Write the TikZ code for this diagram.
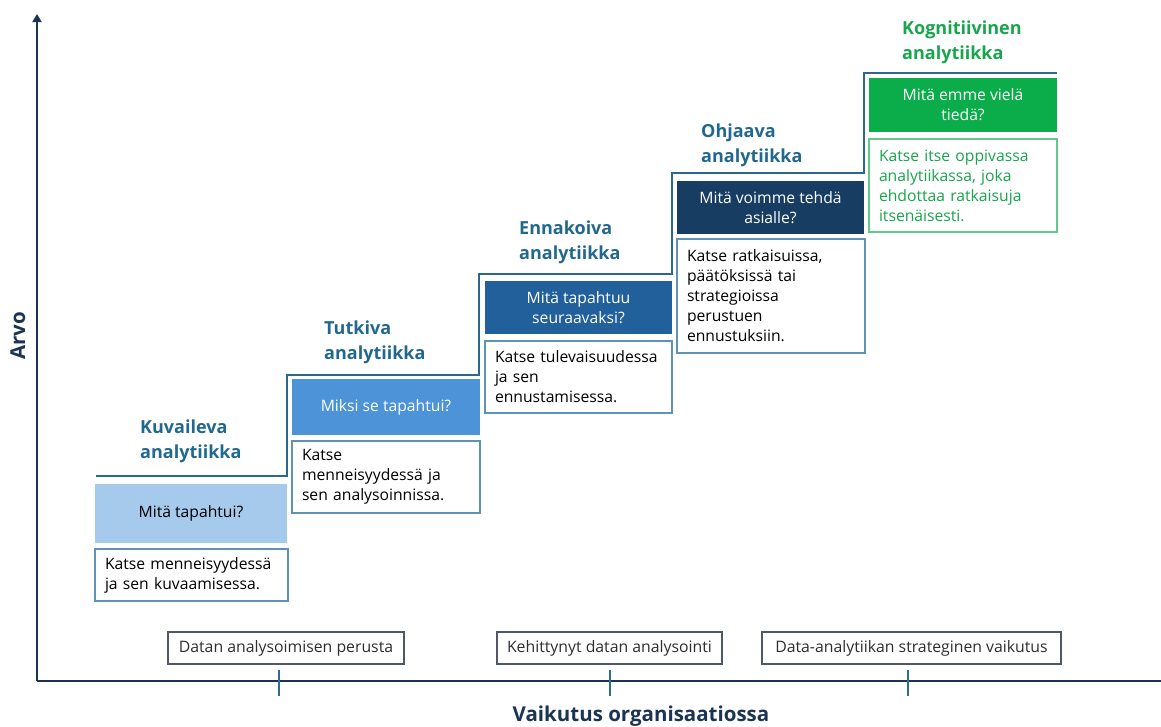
\documentclass[tikz,border=0pt]{standalone}
\usepackage{fontspec}
\setmainfont{Open Sans}
\usetikzlibrary{arrows.meta}

\definecolor{axisnavy}{RGB}{27,52,84}
\definecolor{stairblue}{RGB}{43,104,140}
\definecolor{titleblue}{RGB}{33,104,142}
\definecolor{titlegreen}{RGB}{24,166,76}
\definecolor{qone}{RGB}{166,202,236}
\definecolor{qtwo}{RGB}{76,147,216}
\definecolor{qthree}{RGB}{34,96,156}
\definecolor{qfour}{RGB}{23,61,99}
\definecolor{qfive}{RGB}{11,172,74}
\definecolor{descline}{RGB}{94,147,181}
\definecolor{descgreen}{RGB}{98,201,138}
\definecolor{labelline}{RGB}{80,88,102}
\definecolor{labeltext}{RGB}{45,45,45}
\definecolor{ticblue}{RGB}{47,109,146}

\begin{document}
\begin{tikzpicture}[x=1pt,y=-1pt,
  axisline/.style={draw=axisnavy, line width=2.4pt},
  stair/.style={draw=stairblue, line width=2.4pt, line join=miter},
  tickmark/.style={draw=ticblue, line width=1.8pt},
  stagetitle/.style={anchor=west, align=left, inner sep=0pt, text=titleblue,
    font=\bfseries\fontsize{18}{25}\selectfont},
  qbox/.style={inner sep=0pt, align=center, text=white,
    font=\fontsize{15.7}{20}\selectfont},
  descbox/.style={draw=descline, line width=1.5pt, fill=white, inner xsep=10pt,
    inner ysep=0pt, align=left, text=black, font=\fontsize{15.7}{20}\selectfont},
  levelbox/.style={draw=labelline, line width=1.2pt, inner sep=0pt,
    minimum height=32pt, text=labeltext, font=\fontsize{15.8}{18}\selectfont},
  axislabel/.style={text=axisnavy, inner sep=0pt,
    font=\bfseries\fontsize{20.5}{24}\selectfont}]

\useasboundingbox (0,0) rectangle (1161,726);

% axes
\coordinate (origin) at (37,681);
\coordinate (ytop) at (37,14);
\coordinate (xend) at (1161,681);
\draw[axisline] (origin) -- (xend);
\draw[axisline, -{Triangle[width=9pt,length=8pt]}] (origin) -- (ytop);
\node[axislabel] (xlab) at (641,716) {Vaikutus organisaatiossa};
\node[axislabel, rotate=90] (ylab) at (18,336) {Arvo};

% ticks on the horizontal axis
\draw[tickmark] (279,670) coordinate (t1) -- (279,696);
\draw[tickmark] (610,670) coordinate (t2) -- (610,696);
\draw[tickmark] (908,670) coordinate (t3) -- (908,696);

% maturity levels
\node[levelbox, minimum width=236pt] (lev1) at (286,648) {Datan analysoimisen perusta};
\node[levelbox, minimum width=225pt] (lev2) at (609.5,648) {Kehittynyt datan analysointi};
\node[levelbox, minimum width=299pt] (lev3) at (911.5,648) {Data-analytiikan strateginen vaikutus};

% staircase
\draw[stair] (96,476) -| (287,375) -| (479,274) -| (672,173) -| (864,73) -- (1057,73);

% stage titles
\node[stagetitle] (s1) at (140,441) {Kuvaileva\\analytiikka};
\node[stagetitle] (s2) at (324,342) {Tutkiva\\analytiikka};
\node[stagetitle] (s3) at (519,242.5) {Ennakoiva\\analytiikka};
\node[stagetitle] (s4) at (701,145) {Ohjaava\\analytiikka};
\node[stagetitle, text=titlegreen] (s5) at (902,42.5) {Kognitiivinen\\analytiikka};

% questions
\node[qbox, fill=qone, text=black, minimum width=192pt, minimum height=59pt] (q1) at (191,513.5) {Mitä tapahtui?};
\node[qbox, fill=qtwo, minimum width=188pt, minimum height=56pt] (q2) at (386,407) {Miksi se tapahtui?};
\node[qbox, fill=qthree, minimum width=187pt, minimum height=53pt] (q3) at (578.5,307.5) {Mitä tapahtuu\\seuraavaksi?};
\node[qbox, fill=qfour, minimum width=187pt, minimum height=53pt] (q4) at (770.5,207.5) {Mitä voimme tehdä\\asialle?};
\node[qbox, fill=qfive, minimum width=188pt, minimum height=54pt] (q5) at (963,105) {Mitä emme vielä\\tiedä?};

% descriptions
\node[descbox, text width=173pt, minimum height=52pt] (d1) at (191.5,575) {Katse menneisyydessä\\ja sen kuvaamisessa.};
\node[descbox, text width=168pt, minimum height=72pt] (d2) at (386,477) {Katse\\menneisyydessä ja\\sen analysoinnissa.};
\node[descbox, text width=167pt, minimum height=72pt] (d3) at (578.5,377) {Katse tulevaisuudessa\\ja sen\\ennustamisessa.};
\node[descbox, text width=168pt, minimum height=114pt] (d4) at (771,296) {Katse ratkaisuissa,\\päätöksissä tai\\strategioissa\\perustuen\\ennustuksiin.};
\node[descbox, draw=descgreen, text=titlegreen, text width=168pt, minimum height=93pt] (d5) at (963,185.5) {Katse itse oppivassa\\analytiikassa, joka\\ehdottaa ratkaisuja\\itsenäisesti.};

\end{tikzpicture}
\end{document}
